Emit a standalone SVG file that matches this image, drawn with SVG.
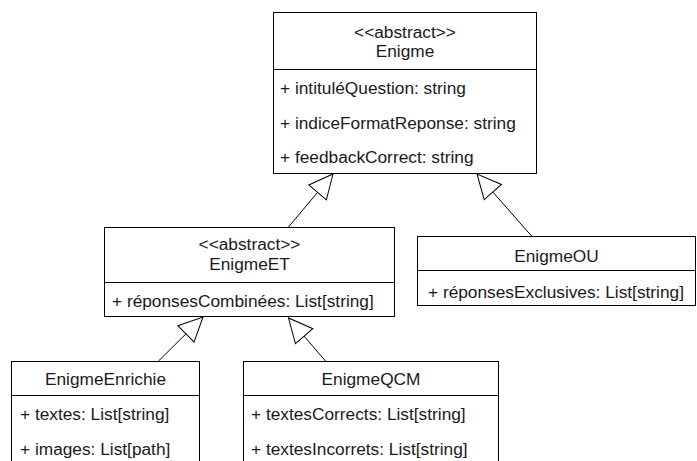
<svg xmlns="http://www.w3.org/2000/svg" width="697" height="461" viewBox="0 0 697 461">
<style>
rect.box{fill:#fff;stroke:#000;stroke-width:1}
line.sep{stroke:#000;stroke-width:1}
text{font-family:"Liberation Sans",Arial,sans-serif;font-size:17.3px;fill:#1a1a1a}
text.c{text-anchor:middle}
.conn line{stroke:#000;stroke-width:1}
</style>
<defs>
<marker id="tri" markerUnits="userSpaceOnUse" markerWidth="28" markerHeight="28" viewBox="-2 -2 28 28" refX="24" refY="12" orient="auto">
<path d="M0,0.5 L24,12 L0,23.5 Z" fill="#fff" stroke="#000" stroke-width="1"/>
</marker>
</defs>
<rect width="697" height="461" fill="#fff"/>
<g class="conn">
<line x1="288.5" y1="227" x2="333" y2="174" marker-end="url(#tri)"/>
<line x1="531.5" y1="236" x2="477" y2="174" marker-end="url(#tri)"/>
<line x1="158.5" y1="361" x2="203" y2="317" marker-end="url(#tri)"/>
<line x1="325.5" y1="361" x2="288.5" y2="318" marker-end="url(#tri)"/>
</g>
<g id="Enigme">
<rect class="box" x="273.5" y="12.5" width="263" height="161"/>
<line class="sep" x1="273.5" y1="69.5" x2="536.5" y2="69.5"/>
<text class="c" x="405" y="37.5">&lt;&lt;abstract&gt;&gt;</text>
<text class="c" x="405" y="57">Enigme</text>
<text x="280" y="94">+ intituléQuestion: string</text>
<text x="280" y="128.5">+ indiceFormatReponse: string</text>
<text x="280" y="163">+ feedbackCorrect: string</text>
</g>
<g id="EnigmeET">
<rect class="box" x="104.5" y="227.5" width="290" height="89"/>
<line class="sep" x1="104.5" y1="282.5" x2="394.5" y2="282.5"/>
<text class="c" x="249.5" y="250">&lt;&lt;abstract&gt;&gt;</text>
<text class="c" x="249.5" y="270">EnigmeET</text>
<text x="112" y="306.5">+ réponsesCombinées: List[string]</text>
</g>
<g id="EnigmeOU">
<rect class="box" x="417.5" y="236.5" width="278" height="69"/>
<line class="sep" x1="417.5" y1="270.5" x2="695.5" y2="270.5"/>
<text class="c" x="556.5" y="261.5">EnigmeOU</text>
<text x="428" y="297.5">+ réponsesExclusives: List[string]</text>
</g>
<g id="EnigmeEnrichie">
<rect class="box" x="11.5" y="361.5" width="188" height="120"/>
<line class="sep" x1="11.5" y1="395.5" x2="199.5" y2="395.5"/>
<text class="c" x="105.5" y="384.5">EnigmeEnrichie</text>
<text x="20" y="420">+ textes: List[string]</text>
<text x="20" y="455">+ images: List[path]</text>
</g>
<g id="EnigmeQCM">
<rect class="box" x="243.5" y="361.5" width="255" height="120"/>
<line class="sep" x1="243.5" y1="395.5" x2="498.5" y2="395.5"/>
<text class="c" x="371" y="385">EnigmeQCM</text>
<text x="251" y="420">+ textesCorrects: List[string]</text>
<text x="251" y="455">+ textesIncorrets: List[string]</text>
</g>
</svg>
